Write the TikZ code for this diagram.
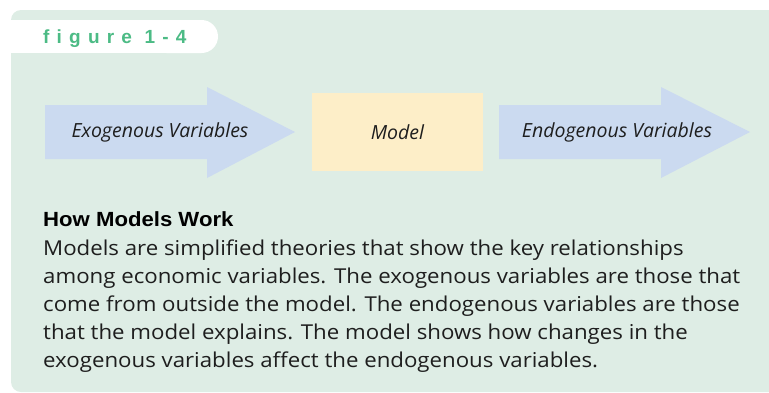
\documentclass[tikz,border=0pt]{standalone}
\usepackage{fontspec}
\setmainfont{Open Sans}
\newfontfamily\headfont{Liberation Sans}
\definecolor{panelbg}{HTML}{DEEDE5}
\definecolor{arrowblue}{HTML}{CBDAF0}
\definecolor{boxyellow}{HTML}{FDEEC8}
\definecolor{figgreen}{HTML}{4CBB85}
\definecolor{textdark}{HTML}{1E1E1E}
\tikzset{
  lbl/.style={font=\fontsize{19.5}{22}\selectfont\itshape, text=textdark, inner sep=0pt},
  bodyline/.style={anchor=base west, inner sep=0pt, text=textdark, font=\fontsize{20.5}{28}\selectfont\addfontfeatures{FakeStretch=1.085}},
  flowarrow/.style={fill=arrowblue},
}
\begin{document}
\begin{tikzpicture}[x=1pt,y=-1pt]
\useasboundingbox (0,0) rectangle (769,392);
% panel
\fill[panelbg] (769,10) [rounded corners=10pt] -- (11,10) -- (11,392) [sharp corners] -- (769,392) -- cycle;
% tab
\fill[white] (11,20) rectangle (200,53);
\fill[white,rounded corners=16.5pt] (150,20) rectangle (218,53);
\node[anchor=base west, inner sep=0pt, text=figgreen, font=\headfont\bfseries\fontsize{19}{22}\selectfont\addfontfeatures{LetterSpace=38}] (figlabel) at (43,43) {figure 1-4};
% arrows
\fill[flowarrow] (45,105) -- (207,105) -- (207,87) -- (295,132) -- (207,178) -- (207,159) -- (45,159) -- cycle;
\fill[flowarrow] (499,105) -- (661,105) -- (661,87) -- (750,132) -- (661,178) -- (661,159) -- (499,159) -- cycle;
\node[lbl] (exo) at (160,132) {Exogenous Variables};
\node[lbl, fill=boxyellow, minimum width=171pt, minimum height=78pt] (model) at (397.5,132) {Model};
\node[lbl] (endo) at (617,132) {Endogenous Variables};
% caption
\node[anchor=base west, inner sep=0pt, text=black, font=\headfont\bfseries\fontsize{20.5}{22}\selectfont\addfontfeatures{FakeStretch=1.08}] (head) at (43,226) {How Models Work};
\node[bodyline] (l1) at (43,255) {Models are simplified theories that show the key relationships};
\node[bodyline] (l2) at (43,283) {among economic variables. The exogenous variables are those that};
\node[bodyline] (l3) at (43,311) {come from outside the model. The endogenous variables are those};
\node[bodyline] (l4) at (43,339) {that the model explains. The model shows how changes in the};
\node[bodyline] (l5) at (43,367) {exogenous variables affect the endogenous variables.};
\end{tikzpicture}
\end{document}
